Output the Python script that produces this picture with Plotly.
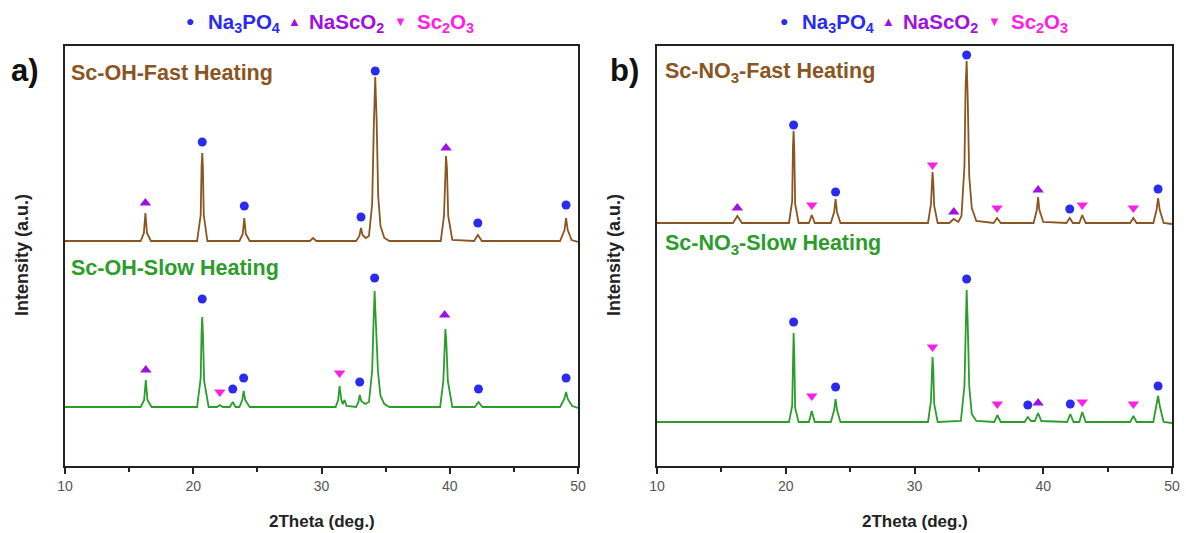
import plotly.graph_objects as go

# ---------------- data (2Theta in deg., intensity in a.u.) ----------------
# Sc-OH fast heating profile
oh_fast_x = [10, 15.9, 16.15, 16.27, 16.39, 16.7, 20.3, 20.58, 20.65, 20.70, 20.75, 20.82, 21.1,
             23.6, 23.86, 23.98, 24.10, 24.4, 29.1, 29.34, 29.6, 32.7, 32.95, 33.08, 33.2, 33.45,
             33.7, 33.95, 34.08, 34.19, 34.3, 34.42, 34.6, 34.9, 35.3, 39.3, 39.55, 39.65, 39.71,
             39.78, 39.88, 40.2, 41.9, 42.19, 42.5, 48.6, 48.95, 49.07, 49.2, 49.5, 50]
oh_fast_y = [225, 225, 233, 253, 233, 225, 225, 251, 300, 313, 300, 251, 225,
             225, 232, 248, 232, 225, 225, 228, 225, 225, 230, 238, 231, 228,
             230, 262, 340, 389, 345, 270, 240, 228, 225, 225, 250, 300, 310,
             298, 250, 226, 225, 231, 225, 225, 236, 248, 236, 226, 224]

# Sc-OH slow heating profile
oh_slow_x = [10, 15.9, 16.17, 16.30, 16.43, 16.75, 20.3, 20.58, 20.65, 20.70, 20.76, 20.85, 21.2,
             21.85, 22.07, 22.3, 22.85, 23.08, 23.3, 23.6, 23.82, 23.93, 24.05, 24.4, 31.1, 31.3,
             31.41, 31.55, 31.65, 31.8, 31.95, 32.7, 32.88, 32.98, 33.1, 33.4, 33.7, 33.95, 34.05,
             34.14, 34.25, 34.4, 34.6, 34.9, 35.3, 39.25, 39.5, 39.6, 39.66, 39.73, 39.85, 40.2,
             41.95, 42.24, 42.55, 48.6, 48.93, 49.07, 49.2, 49.55, 50]
oh_slow_y = [59, 59, 66, 86, 66, 59, 59, 88, 135, 149, 130, 85, 59,
             59, 61, 59, 59, 64, 59, 59, 66, 75, 66, 59, 59, 66,
             80, 66, 62, 66, 60, 59, 64, 71, 65, 62, 64, 95, 140,
             175, 140, 95, 70, 62, 59, 59, 85, 128, 137, 125, 85, 59,
             59, 64, 59, 59, 67, 74, 67, 60, 58]

# Sc-NO3 fast heating profile
no3_fast_x = [10, 15.9, 16.24, 16.6, 20.25, 20.5, 20.56, 20.61, 20.66, 20.73, 21.0, 21.8, 22.02, 22.25,
              23.5, 23.76, 23.87, 23.98, 24.25, 31.05, 31.28, 31.35, 31.40, 31.46, 31.53, 31.8,
              32.7, 33.05, 33.4, 33.65, 33.88, 33.97, 34.05, 34.13, 34.25, 34.45, 34.8, 36.15,
              36.41, 36.7, 39.25, 39.5, 39.6, 39.7, 40.0, 41.8, 42.06, 42.3, 42.8, 43.03, 43.3,
              46.75, 47.0, 47.25, 48.55, 48.8, 48.92, 49.05, 49.35, 50]
no3_fast_y = [243, 243, 250, 243, 243, 265, 320, 335, 318, 262, 243, 243, 251, 243,
              243, 254, 267, 254, 243, 243, 262, 285, 294, 283, 260, 243,
              243, 247, 244, 250, 300, 380, 405, 370, 290, 258, 245, 243,
              248, 243, 243, 256, 269, 256, 244, 243, 248, 243, 243, 251, 243,
              243, 248, 243, 243, 256, 268, 256, 243, 242]

# Sc-NO3 slow heating profile
no3_slow_x = [10, 20.25, 20.5, 20.56, 20.61, 20.66, 20.73, 21.0, 21.8, 22.02, 22.25,
              23.5, 23.76, 23.87, 23.98, 24.25, 31.05, 31.28, 31.35, 31.40, 31.46, 31.53, 31.8,
              33.6, 33.88, 33.97, 34.05, 34.13, 34.25, 34.45, 34.8, 36.2, 36.43, 36.7,
              38.55, 38.8, 39.05, 39.35, 39.6, 39.85, 41.85, 42.1, 42.35, 42.8, 43.03, 43.3,
              46.75, 47.0, 47.25, 48.55, 48.8, 48.92, 49.05, 49.35, 50]
no3_slow_y = [44, 44, 60, 115, 133, 113, 58, 44, 44, 55, 44,
              44, 56, 67, 56, 44, 44, 65, 98, 109, 96, 62, 44,
              45, 80, 150, 176, 145, 80, 52, 45, 44, 51, 44,
              44, 49, 45, 45, 53, 45, 44, 52, 44, 44, 54, 44,
              44, 50, 44, 44, 60, 70, 60, 44, 43]

# phase markers: (2Theta, intensity)
oh_fast_na3po4_x = [20.70, 23.98, 33.08, 34.19, 42.19, 49.07]
oh_fast_na3po4_y = [324, 260, 249, 395, 243, 261]
oh_fast_nasco2_x = [16.27, 39.71]
oh_fast_nasco2_y = [263, 318]

oh_slow_na3po4_x = [20.70, 23.08, 23.93, 32.98, 34.14, 42.24, 49.07]
oh_slow_na3po4_y = [167, 77, 88, 84, 188, 77, 88]
oh_slow_nasco2_x = [16.30, 39.60]
oh_slow_nasco2_y = [96, 151]
oh_slow_sc2o3_x = [22.07, 31.41]
oh_slow_sc2o3_y = [74, 93]

no3_fast_na3po4_x = [20.61, 23.87, 34.05, 42.06, 48.92]
no3_fast_na3po4_y = [341, 274, 411, 257, 277]
no3_fast_nasco2_x = [16.24, 33.05, 39.60]
no3_fast_nasco2_y = [258, 254, 276]
no3_fast_sc2o3_x = [22.02, 31.40, 36.41, 43.03, 47.00]
no3_fast_sc2o3_y = [261, 301, 258, 261, 258]

no3_slow_na3po4_x = [20.61, 23.87, 34.05, 38.80, 42.10, 48.92]
no3_slow_na3po4_y = [144, 79, 187, 61, 62, 80]
no3_slow_nasco2_x = [39.60]
no3_slow_nasco2_y = [63]
no3_slow_sc2o3_x = [22.02, 31.40, 36.43, 43.03, 47.00]
no3_slow_sc2o3_y = [70, 119, 62, 64, 62]

x_ticks = [10, 20, 30, 40, 50]
x_minor_ticks = [15, 25, 35, 45]

# ---------------- styles ----------------
BROWN = "#8a5521"
GREEN = "#2a9d2a"
BLUE = "#2b2bef"
PURPLE = "#a010e0"
MAGENTA = "#ff1ee6"
FONT = "Liberation Sans, Arial, sans-serif"

W, H = 1186, 533
def px(x):
    return x / W
def py(y):
    return 1 - y / H

fig = go.Figure()

panels = [
    dict(xa="x", ya="y",
         lines=[(oh_fast_x, oh_fast_y, BROWN), (oh_slow_x, oh_slow_y, GREEN)],
         na=[(oh_fast_na3po4_x, oh_fast_na3po4_y), (oh_slow_na3po4_x, oh_slow_na3po4_y)],
         up=[(oh_fast_nasco2_x, oh_fast_nasco2_y), (oh_slow_nasco2_x, oh_slow_nasco2_y)],
         dn=[(oh_slow_sc2o3_x, oh_slow_sc2o3_y)]),
    dict(xa="x2", ya="y2",
         lines=[(no3_fast_x, no3_fast_y, BROWN), (no3_slow_x, no3_slow_y, GREEN)],
         na=[(no3_fast_na3po4_x, no3_fast_na3po4_y), (no3_slow_na3po4_x, no3_slow_na3po4_y)],
         up=[(no3_fast_nasco2_x, no3_fast_nasco2_y), (no3_slow_nasco2_x, no3_slow_nasco2_y)],
         dn=[(no3_fast_sc2o3_x, no3_fast_sc2o3_y), (no3_slow_sc2o3_x, no3_slow_sc2o3_y)]),
]

for p in panels:
    for xs, ys, c in p["lines"]:
        fig.add_trace(go.Scatter(x=xs, y=ys, mode="lines", line=dict(color=c, width=1.8),
                                 xaxis=p["xa"], yaxis=p["ya"], showlegend=False, hoverinfo="skip"))
    for xs, ys in p["na"]:
        fig.add_trace(go.Scatter(x=xs, y=ys, mode="markers",
                                 marker=dict(symbol="circle", size=9, color=BLUE),
                                 xaxis=p["xa"], yaxis=p["ya"], showlegend=False))
    for xs, ys in p["up"]:
        fig.add_trace(go.Scatter(x=xs, y=ys, mode="markers",
                                 marker=dict(symbol="triangle-up", size=10, color=PURPLE),
                                 xaxis=p["xa"], yaxis=p["ya"], showlegend=False))
    for xs, ys in p["dn"]:
        fig.add_trace(go.Scatter(x=xs, y=ys, mode="markers",
                                 marker=dict(symbol="triangle-down", size=10, color=MAGENTA),
                                 xaxis=p["xa"], yaxis=p["ya"], showlegend=False))

xaxis_common = dict(range=[10, 50], tickvals=x_ticks, ticks="outside", ticklen=6, tickwidth=1.5,
                    tickcolor="#222", showline=True, linecolor="#222", linewidth=1.5, mirror=True,
                    showgrid=False, zeroline=False, automargin=False,
                    tickfont=dict(family=FONT, size=14, color="#555"),
                    minor=dict(tickvals=x_minor_ticks, ticks="outside", ticklen=4,
                               tickwidth=1.5, tickcolor="#222"))
yaxis_common = dict(range=[0, 420], showticklabels=False, ticks="", showline=True, linecolor="#222",
                    linewidth=1.5, mirror=True, showgrid=False, zeroline=False, automargin=False)

L0, L1, R0, R1, TOP, BOT = 65, 578, 657, 1172, 46, 466

fig.update_layout(
    width=W, height=H, paper_bgcolor="white", plot_bgcolor="white",
    margin=dict(l=0, r=0, t=0, b=0, autoexpand=False),
    xaxis=dict(domain=[px(L0), px(L1)], anchor="y", **xaxis_common),
    yaxis=dict(domain=[py(BOT), py(TOP)], anchor="x", **yaxis_common),
    xaxis2=dict(domain=[px(R0), px(R1)], anchor="y2", **xaxis_common),
    yaxis2=dict(domain=[py(BOT), py(TOP)], anchor="x2", **yaxis_common),
)

ann = []
def text(x, y, s, color, size, xanchor="left", angle=0):
    ann.append(dict(x=px(x), y=py(y), xref="paper", yref="paper", text=s, showarrow=False,
                    xanchor=xanchor, yanchor="middle", textangle=angle,
                    font=dict(family=FONT, size=size, color=color)))

# axis titles
for a, b in ((L0, L1), (R0, R1)):
    text((a + b) / 2, 521, "<b>2Theta (deg.)</b>", "#222", 17, "center")
    text(a - 43, 255, "<b>Intensity (a.u.)</b>", "#222", 18, "center", -90)

# panel letters
text(9, 70, "<b>a)</b>", "#111", 31)
text(608, 70, "<b>b)</b>", "#111", 31)
# sample labels
text(69, 73, "<b>Sc-OH-Fast Heating</b>", BROWN, 21.5)
text(69, 268, "<b>Sc-OH-Slow Heating</b>", GREEN, 21.5)
text(663, 72, "<b>Sc-NO<sub>3</sub>-Fast Heating</b>", BROWN, 21.5)
text(663, 245, "<b>Sc-NO<sub>3</sub>-Slow Heating</b>", GREEN, 21.5)

# phase legends above each panel
for x0 in (0, 594):
    text(x0 + 190, 21, "●", BLUE, 14, "center")
    text(x0 + 206, 23, "<b>Na<sub>3</sub>PO<sub>4</sub></b>", BLUE, 20.5)
    text(x0 + 294, 21, "▲", PURPLE, 13, "center")
    text(x0 + 307, 23, "<b>NaScO<sub>2</sub></b>", PURPLE, 20.5)
    text(x0 + 400, 21, "▼", MAGENTA, 13, "center")
    text(x0 + 415, 23, "<b>Sc<sub>2</sub>O<sub>3</sub></b>", MAGENTA, 20.5)

fig.update_layout(annotations=ann)
fig.write_html("out.html", config={"displayModeBar": False},
               post_script="document.body.style.margin='0';document.body.style.overflow='hidden';")
